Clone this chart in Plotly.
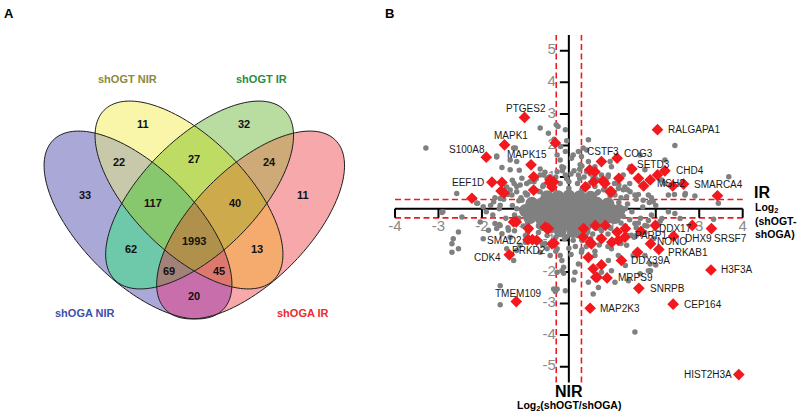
import math
import numpy as np
import plotly.graph_objects as go

# ================= DATA =================
# ---- Panel A: Venn diagram ----
set_names = ["shOGA NIR", "shOGT NIR", "shOGT IR", "shOGA IR"]
region_counts = [33, 11, 32, 11, 22, 27, 24, 117, 40, 62, 1993, 13, 69, 45, 20]
# membership (shOGA NIR, shOGT NIR, shOGT IR, shOGA IR) of each count above
region_sets = [(1, 0, 0, 0), (0, 1, 0, 0), (0, 0, 1, 0), (0, 0, 0, 1), (1, 1, 0, 0),
               (0, 1, 1, 0), (0, 0, 1, 1), (1, 1, 1, 0), (0, 1, 1, 1), (1, 0, 1, 0),
               (1, 1, 1, 1), (0, 1, 0, 1), (1, 0, 1, 1), (1, 1, 0, 1), (1, 0, 0, 1)]

# ---- Panel B: scatter (x = IR log2 ratio, y = NIR log2 ratio) ----
x_ticks = [-4, -3, -2, -1, 1, 2, 3, 4]
y_ticks = [-5, -4, -3, -2, -1, 1, 2, 3, 4, 5]
threshold = 0.29

core_x = [-0.5, -0.25, 0.0, 0.25, 0.5,
          -0.85, -0.6, -0.35, -0.1, 0.15, 0.4, 0.65, 0.9,
          -1.0, -0.75, -0.5, -0.25, 0.0, 0.25, 0.5, 0.75, 1.0, 1.15,
          -0.9, -0.65, -0.4, -0.15, 0.1, 0.35, 0.6, 0.85, 1.05,
          -0.6, -0.35, -0.1, 0.15, 0.4, 0.65,
          -0.2, 0.1, 0.35]
core_y = [0.38, 0.38, 0.4, 0.38, 0.36,
          0.17, 0.17, 0.17, 0.17, 0.17, 0.17, 0.17, 0.15,
          -0.06, -0.06, -0.06, -0.06, -0.06, -0.06, -0.06, -0.06, -0.06, -0.06,
          -0.28, -0.28, -0.28, -0.28, -0.28, -0.28, -0.28, -0.28, -0.28,
          -0.5, -0.5, -0.5, -0.5, -0.5, -0.5,
          -0.7, -0.72, -0.7]

grey_x = [-3.29, -2.58, -2.12, -2.9, -1.66, -1.27, -0.66, -0.47, -0.34, -0.29, -0.25, -0.08, -0.05, -0.19,
          -1.23, -1.66, -1.35, -1.2, -1.54, -1.35, -1.14, -0.66, -0.58, -1.08, -1.26, -1.12, -1.35, -2.1,
          -1.73, -1.58, -1.43, -1.31, -1.2, -0.97, -0.66, -0.58, -0.5, -0.97, -1.08, -0.85, -1.97, -1.58,
          -0.66, -0.27, -0.2, -0.08, -0.16, -0.27, -0.08,
          0.45, 0.33, 0.41, 0.22, 2.44, 2.21, 3.68, 2.68, 2.43, 3.44, 1.64, 0.95, 0.98, 0.6, 0.91, 0.75,
          0.56, 1.25, 1.29, 1.41, 1.52, 1.83, 1.94, 1.71, 1.41, 1.44, 1.75, 1.67, 2.14, 2.21, 2.29, 0.1,
          0.06, 0.29, 0.26, 0.45, 0.41, 0.22, 1.14, 0.83, 1.06, 1.33, 0.68, 0.45, 2.67, 2.9,
          -2.92, -2.46, -2.04, -2.54, -2.66, -2.69, -2.54, -2.69, -1.58, -1.58, -1.97, -1.85, -1.66, -1.27,
          -1.58, -1.7, -1.54, -1.39, -1.43, -1.2, -1.12, -1.0, -0.27, -0.2, -0.16, -0.12, -0.27, -0.08,
          -0.27, -1.2, -1.35, -0.5, -0.66, -0.43, -0.16, -0.12, -0.35, -0.31,
          1.52, 1.83, 0.56, 1.37, 2.29, 2.44, 2.56, 3.33, 0.11, 1.88, 1.3, 2.0, 1.06, 0.75, 0.45, 0.98,
          1.75, 1.48, 1.14, 0.91, 0.6, 0.29, 0.22, 0.14, 1.44, 1.75, 1.52, 1.83, 2.14, 1.33, 0.98, 1.87,
          1.64, 0.68,
          -1.3, -1.25, -1.2, -1.1, -1.0, -0.8, -0.6, -0.4, -0.2, 0.0, 0.2, 0.4, 0.6, 0.8, 1.0, 1.2, 1.35,
          1.45, 1.4, 1.3, 1.1, 0.9, 0.7, 0.5, 0.3, 0.1, -0.1, -0.3, -0.5, -0.7, -0.9, -1.05,
          -1.5, -1.45, -1.6, -1.2, -0.9, -0.45, 0.05, 0.35, 0.7, 1.05, 1.35, 1.55, 1.7, 1.65, 1.55, 1.35,
          1.0, 0.7, 0.4, 0.0, -0.35, -0.65, -0.95, -1.25, 1.9, 1.85, 1.8, 2.0, -1.8, -1.75,
          -0.05, 0.12, -0.12, 0.3, 0.5, 0.25, -0.3, -0.45, 0.62, 0.85, 1.15, 1.25, 1.55, 1.2, 0.95,
          -0.75, -0.95, -1.4, -0.8, 0.15, -0.6,
          -1.15, -1.2, -1.15, -0.95, -0.7, -0.35, 0.0, 0.3, 0.65, 0.95, 1.15, 1.3, 1.25, 1.2, 0.95,
          0.75, 0.55, 0.2, -0.05, -0.4, -0.7, -0.95,
          1.6, 1.75, 1.5, 1.2, 0.9, 0.6, 0.3, 1.9, 2.1, 1.95, 1.6, 1.4, -1.5, -1.7, -1.9, -1.6, -1.4,
          -1.0, -0.8, -0.55, -0.3, 0.05, 0.25, -0.15, -0.55, 0.6, 0.9, -1.3, -0.75]
grey_y = [1.92, 0.48, 0.17, -0.1, 1.67, 1.92, 2.55, 2.39, 2.2, 2.66, 2.6, 2.5, 2.15, 1.97,
          1.92, 1.64, 1.54, 1.49, 1.3, 1.23, 1.22, 1.26, 1.07, 0.96, 0.8, 0.75, 0.59, 0.17,
          0.22, 0.32, 0.69, 0.43, 0.54, 0.8, 0.54, 0.75, 0.96, 0.43, 0.27, 0.22, 0.06, 0.11,
          1.07, 1.7, 1.54, 1.81, 1.33, 1.17, 1.07,
          2.18, 1.92, 1.86, 1.81, 2.0, 1.54, 1.01, 0.48, 0.45, 0.17, 1.7, 1.49, 1.33, 1.33, 1.07, 1.07,
          0.96, 1.07, 0.69, 0.54, 0.43, 0.43, 0.22, 0.27, 1.33, 1.17, 1.23, 0.75, 0.91, 0.8, 0.43, 1.7,
          1.6, 1.65, 1.39, 1.49, 1.17, 1.07, 0.64, 0.64, 0.43, 0.38, 0.54, 0.75, 0.43, 0.4,
          -0.12, -0.26, -0.42, -0.74, -0.95, -1.11, -1.27, -1.38, -2.44, -3.04, -0.95, -0.68, -0.63, -1.64,
          -0.53, -0.47, -0.79, -0.68, -1.27, -1.32, -1.16, -1.06, -1.27, -1.48, -1.64, -1.85, -2.01, -2.6,
          -2.54, -0.31, -0.9, -1.27, -1.38, -1.48, -1.96, -2.04, -2.54, -2.62,
          -3.9, -1.96, -2.7, -2.28, -0.1, -0.15, -0.31, -0.33, -2.26, -1.96, -1.8, -1.78, -2.33, -2.01, -2.33, -1.96,
          -1.48, -1.48, -1.48, -1.64, -1.48, -1.38, -1.75, -2.01, -0.84, -0.53, -0.47, -0.37, -0.31, -1.16, -1.27, -1.75,
          -2.06, -2.49,
          0.1, -0.2, -0.45, 0.35, 0.5, 0.6, 0.7, 0.75, 0.8, 0.85, 0.8, 0.75, 0.7, 0.6, 0.5, 0.35, 0.15,
          -0.1, -0.35, -0.55, -0.7, -0.8, -0.9, -0.95, -1.0, -1.0, -0.95, -0.9, -0.85, -0.75, -0.65, -0.55,
          0.3, -0.3, 0.0, 0.7, 0.85, 1.0, 1.1, 1.0, 0.9, 0.8, 0.6, 0.3, 0.05, -0.3, -0.6, -0.85,
          -1.0, -1.15, -1.2, -1.25, -1.15, -1.05, -0.9, -0.7, -0.2, 0.2, -0.55, 0.1, 0.1, -0.2,
          0.95, 1.2, 1.3, 1.35, 1.1, 0.95, 1.0, 0.9, 0.95, 0.85, 0.75, 0.6, -0.85, -0.95, -1.1,
          -1.0, -0.75, 0.45, 0.85, -1.2, -1.15,
          0.25, 0.0, -0.3, 0.45, 0.55, 0.62, 0.65, 0.6, 0.5, 0.4, 0.2, 0.0, -0.25, -0.45, -0.6,
          -0.7, -0.8, -0.85, -0.88, -0.7, -0.55, -0.45,
          -0.45, -0.75, -0.9, -1.1, -1.2, -1.35, -1.3, 0.35, -0.4, -0.95, 0.45, 0.8, 0.55, 0.35, -0.1, -0.5, -0.6,
          -0.85, -1.0, -1.1, -1.35, -1.45, 1.25, 1.2, 1.15, 1.1, 1.0, 0.9, 0.95]

red_x = [-1.02, -1.48, -1.90, -0.87, -1.77, 2.04, 0.75, 1.11, 1.45, 2.21, 1.72, 2.64,
         1.99, 1.66, 1.88, 2.41, 3.28, 2.07, 1.21, 3.27, 0.88, 1.61, 2.40, 0.49, 3.91,
         -1.21, -1.37, -0.94, -0.34,
         -0.31, -0.81, -1.54, -1.56, -1.49, -2.23, -0.81, -0.44, -0.35, 0.48, 0.57, 0.79, 0.83,
         1.15, 0.98, 0.60, 1.60, 1.87, 2.04, 2.39, 3.42, 2.84, 1.58, 0.33, 0.52, 0.75, 1.14,
         1.29, 0.45, 0.75, 0.62, 0.56, -1.21, -0.93, -0.54, -0.47, -0.84, -0.74, -0.43, -0.39,
         0.38, 0.95, -1.27, -0.5, 0.34, 0.61, 0.84, 1.11, 1.30, 0.49, 0.99, -0.39, 0.65]
red_y = [2.89, 2.02, 1.63, 1.39, 0.84, 2.50, 1.49, 1.60, 1.26, 1.20, 0.72, 0.78,
         -0.53, -0.72, -1.11, -0.87, -0.63, -1.29, -1.64, -1.94, -2.19, -2.52, -3.02, -3.15, -5.25,
         -2.94, -1.46, -0.98, -1.09,
         2.08, 1.01, 0.83, 0.56, 0.50, 0.33, 0.59, 0.83, 0.85, 1.23, 0.85, 0.88, 0.80,
         0.96, 0.54, 1.17, 0.96, 0.91, 1.07, 0.72, 0.41, -0.53, -1.38, -0.90, -1.11, -0.95, -1.00,
         -0.90, -1.54, -1.78, -2.17, -1.90, -0.42, -0.63, -0.58, -0.63, -0.98, -1.00, 0.91, 0.69,
         0.69, 0.54, -0.42, -0.63, -0.63, -0.53, -0.53, -0.74, -0.63, -1.06, -1.06, -1.11, -2.17]
red_labels = ["PTGES2", "MAPK1", "S100A8", "MAPK15", "EEF1D", "RALGAPA1", "CSTF3", "COG3",
              "SETD3", "CHD4", "MSH2", "SMARCA4", "DDX17", "PARP1", "NONO", "DHX9", "SRSF7",
              "PRKAB1", "DDX39A", "H3F3A", "MRPS9", "SNRPB", "CEP164", "MAP2K3", "HIST2H3A",
              "TMEM109", "CDK4", "SMAD2", "PRKD2"]

# ================= LAYOUT / STYLE =================
W, H = 800, 416
FONT = "Arial, Liberation Sans, sans-serif"
GREY = "#808080"
RED = "#f2191e"

# scatter axis mapping (pixels)
X0PX, XPU = 568.85, 43.46
Y0PX, YPU = 208.7, 31.6
XR = (-4.6, 4.6)
YR = (-6.0, 6.0)
xdom = [(X0PX + XR[0] * XPU) / W, (X0PX + XR[1] * XPU) / W]
ydom = [1 - (Y0PX - YR[0] * YPU) / H, 1 - (Y0PX - YR[1] * YPU) / H]

# label placement: (xanchor, xshift px, yshift px up)
label_place = {
    "PTGES2": ("center", 1, 9), "MAPK1": ("center", 6, 9), "S100A8": ("right", 1, 8),
    "MAPK15": ("center", -4, 10), "EEF1D": ("right", -6, 0), "RALGAPA1": ("left", 8, 0),
    "CSTF3": ("center", 2, 10), "COG3": ("left", 5, 5), "SETD3": ("left", 3, 4),
    "CHD4": ("left", 9, 0), "MSH2": ("left", 11, 2), "SMARCA4": ("left", 8, 0),
    "DDX17": ("left", 2, -3), "PARP1": ("left", -8, -4), "NONO": ("left", 4, 2),
    "DHX9": ("left", 9, -2), "SRSF7": ("left", 1, -10), "PRKAB1": ("left", 7, -3),
    "DDX39A": ("left", 8, 0), "H3F3A": ("left", 8, 0), "MRPS9": ("left", 9, 0),
    "SNRPB": ("left", 9, 0), "CEP164": ("left", 9, 0), "MAP2K3": ("left", 8, 0),
    "HIST2H3A": ("right", -5, 0), "TMEM109": ("center", 2, 8), "CDK4": ("right", -6, -3),
    "SMAD2": ("right", -4, -1), "PRKD2": ("right", -6, -7),
}

# Venn geometry (pixels): cx, cy, a, b, angle
ellipses = [
    (138.0, 225.0, 120, 57, 45),
    (189.0, 195.0, 120, 57, 45),
    (199.6, 195.0, 120, 57, -45),
    (250.6, 225.0, 120, 57, -45),
]
region_colors = {
    (1, 0, 0, 0): (170, 168, 214), (0, 1, 0, 0): (249, 246, 170), (0, 0, 1, 0): (185, 221, 160),
    (0, 0, 0, 1): (246, 168, 170), (1, 1, 0, 0): (200, 200, 170), (0, 1, 1, 0): (190, 220, 100),
    (0, 0, 1, 1): (205, 170, 120), (1, 1, 1, 0): (135, 200, 110), (0, 1, 1, 1): (205, 170, 75),
    (1, 0, 1, 0): (110, 200, 170), (1, 1, 1, 1): (175, 145, 75), (0, 1, 0, 1): (245, 170, 110),
    (1, 0, 1, 1): (160, 130, 120), (1, 1, 0, 1): (220, 120, 110), (1, 0, 0, 1): (200, 110, 170),
    (0, 0, 0, 0): (255, 255, 255),
}
region_pos = [(85, 195.3), (143.3, 124.3), (244.3, 124.3), (302.7, 195.3), (119, 162),
              (194.3, 159.3), (269.3, 162), (153.3, 203.3), (235, 203.3), (131, 249.3),
              (194.3, 241), (256.7, 249.3), (169, 271), (219, 271), (194.3, 295.7)]
set_label_pos = [(85, 313), (127, 79), (261, 79), (303, 313)]
set_label_colors = ["#3d4fb0", "#8a8a3a", "#2e8b45", "#ee2a2e"]

fig = go.Figure()

# ---------- Venn (region-coloured image + outlines) ----------
VX0, VX1, VY0, VY1 = 36, 354, 92, 328
gx, gy = np.meshgrid(np.arange(VX0, VX1) + 0.5, np.arange(VY0, VY1) + 0.5)
members = []
for cx, cy, a, b, ang in ellipses:
    t = math.radians(ang)
    dx, dy = gx - cx, gy - cy
    u = dx * math.cos(t) + dy * math.sin(t)
    v = -dx * math.sin(t) + dy * math.cos(t)
    members.append(((u / a) ** 2 + (v / b) ** 2) <= 1.0)
img = np.full(gx.shape + (3,), 255, dtype=np.uint8)
for key in region_colors:
    m = np.ones(gx.shape, dtype=bool)
    for k, mem in zip(key, members):
        m &= mem if k else ~mem
    img[m] = region_colors[key]
fig.add_trace(go.Image(z=img.tolist(), x0=VX0 + 0.5, dx=1, y0=VY0 + 0.5, dy=1,
                       xaxis="x", yaxis="y", hoverinfo="skip"))


def ellipse_path(cx, cy, a, b, ang):
    t = math.radians(ang)
    pts = []
    for i in range(160):
        s = 2 * math.pi * i / 160
        ux, uy = a * math.cos(s), b * math.sin(s)
        pts.append((cx + ux * math.cos(t) - uy * math.sin(t), cy + ux * math.sin(t) + uy * math.cos(t)))
    return "M " + " L ".join(f"{px:.2f},{py:.2f}" for px, py in pts) + " Z"


shapes = []
for cx, cy, a, b, ang in ellipses:
    shapes.append(dict(type="path", xref="x", yref="y", path=ellipse_path(cx, cy, a, b, ang),
                       fillcolor="rgba(0,0,0,0)", line=dict(color="#1e1e1e", width=1), layer="above"))

annotations = []
for c, (px, py) in zip(region_counts, region_pos):
    annotations.append(dict(x=px, y=py, xref="x", yref="y", text=f"<b>{c}</b>", showarrow=False,
                            xanchor="center", yanchor="middle",
                            font=dict(family=FONT, size=11, color="#111111")))
for name, (px, py), col in zip(set_names, set_label_pos, set_label_colors):
    annotations.append(dict(x=px, y=py, xref="x", yref="y", text=f"<b>{name}</b>", showarrow=False,
                            xanchor="center", yanchor="middle",
                            font=dict(family=FONT, size=11, color=col)))

for txt, px in (("A", 9), ("B", 389)):
    annotations.append(dict(x=px / W, y=1 - 13 / H, xref="paper", yref="paper", text=f"<b>{txt}</b>",
                            showarrow=False, xanchor="center", yanchor="middle",
                            font=dict(family=FONT, size=13, color="black")))


# ---------- Scatter axes (drawn as shapes, below points) ----------
def ln(x0, y0, x1, y1, color, width, dash=None):
    d = dict(type="line", xref="x2", yref="y2", x0=x0, y0=y0, x1=x1, y1=y1,
             line=dict(color=color, width=width), layer="below")
    if dash:
        d["line"]["dash"] = dash
    return d


dash = "6px,3.5px"
shapes.append(ln(-threshold, -5.5, -threshold, 5.5, RED, 1.6, dash))
shapes.append(ln(threshold, -5.5, threshold, 5.5, RED, 1.6, dash))
shapes.append(ln(-4, threshold, 4, threshold, RED, 1.6, dash))
shapes.append(ln(-4, -threshold, 4, -threshold, RED, 1.6, dash))
shapes.append(ln(0, -5.5, 0, 5.5, "black", 2))
shapes.append(ln(-4, 0, 4, 0, "black", 2))
tick_len_y = 9 / YPU
tick_len_x = 9 / XPU
for v in x_ticks:
    shapes.append(ln(v, 0, v, -tick_len_y, "black", 2))
for v in y_ticks:
    shapes.append(ln(0, v, -tick_len_x, v, "black", 2))

# tick labels (under the points)
fig.add_trace(go.Scatter(
    x=x_ticks, y=[-19 / YPU] * len(x_ticks), text=[str(v) for v in x_ticks], mode="text",
    textfont=dict(family=FONT, size=15, color="#8a8a8a"), xaxis="x2", yaxis="y2",
    hoverinfo="skip", showlegend=False))
fig.add_trace(go.Scatter(
    x=[-13 / XPU] * len(y_ticks), y=y_ticks, text=[str(v) for v in y_ticks], mode="text",
    textposition="middle left",
    textfont=dict(family=FONT, size=15, color="#8a8a8a"), xaxis="x2", yaxis="y2",
    hoverinfo="skip", showlegend=False))

# points
fig.add_trace(go.Scatter(x=core_x, y=core_y, mode="markers",
                         marker=dict(size=13, color=GREY, line=dict(width=0)),
                         xaxis="x2", yaxis="y2", hoverinfo="skip", showlegend=False))
fig.add_trace(go.Scatter(x=grey_x, y=grey_y, mode="markers",
                         marker=dict(size=5.5, color=GREY, line=dict(width=0)),
                         xaxis="x2", yaxis="y2", hoverinfo="skip", showlegend=False))
fig.add_trace(go.Scatter(x=red_x, y=red_y, mode="markers",
                         marker=dict(size=9, symbol="diamond", color=RED, line=dict(width=0)),
                         xaxis="x2", yaxis="y2", hoverinfo="skip", showlegend=False))

for lab, x, y in zip(red_labels, red_x, red_y):
    anc, dx, dy = label_place[lab]
    annotations.append(dict(x=x, y=y, xref="x2", yref="y2", text=lab, showarrow=False,
                            xanchor=anc, yanchor="middle", xshift=dx, yshift=dy,
                            font=dict(family=FONT, size=10, color="#1a1a1a")))

# axis titles
annotations.append(dict(x=752 / W, y=1 - 192 / H, xref="paper", yref="paper", text="<b>IR</b>",
                        showarrow=False, xanchor="left", yanchor="middle",
                        font=dict(family=FONT, size=16, color="black")))
annotations.append(dict(x=753 / W, y=1 - 220 / H, xref="paper", yref="paper",
                        text="<b>Log<sub>2</sub><br>(shOGT-<br>shOGA)</b>", align="left",
                        showarrow=False, xanchor="left", yanchor="middle",
                        font=dict(family=FONT, size=10.5, color="black")))
annotations.append(dict(x=569 / W, y=1 - 391 / H, xref="paper", yref="paper", text="<b>NIR</b>",
                        showarrow=False, xanchor="center", yanchor="middle",
                        font=dict(family=FONT, size=16, color="black")))
annotations.append(dict(x=569 / W, y=1 - 406 / H, xref="paper", yref="paper",
                        text="<b>Log<sub>2</sub>(shOGT/shOGA)</b>", xanchor="center", yanchor="middle",
                        showarrow=False, font=dict(family=FONT, size=10.5, color="black")))

fig.update_layout(
    width=W, height=H, margin=dict(l=0, r=0, t=0, b=0),
    paper_bgcolor="white", plot_bgcolor="rgba(0,0,0,0)",
    xaxis=dict(domain=[0, 0.45], range=[0, 360], visible=False, fixedrange=True),
    yaxis=dict(domain=[0, 1], range=[416, 0], visible=False, fixedrange=True),
    xaxis2=dict(domain=xdom, range=list(XR), visible=False, anchor="y2", fixedrange=True),
    yaxis2=dict(domain=ydom, range=list(YR), visible=False, anchor="x2", fixedrange=True),
    shapes=shapes, annotations=annotations, showlegend=False,
)

fig.write_html("out.html", config={"displayModeBar": False},
               post_script="document.body.style.margin='0px';document.body.style.overflow='hidden';")
